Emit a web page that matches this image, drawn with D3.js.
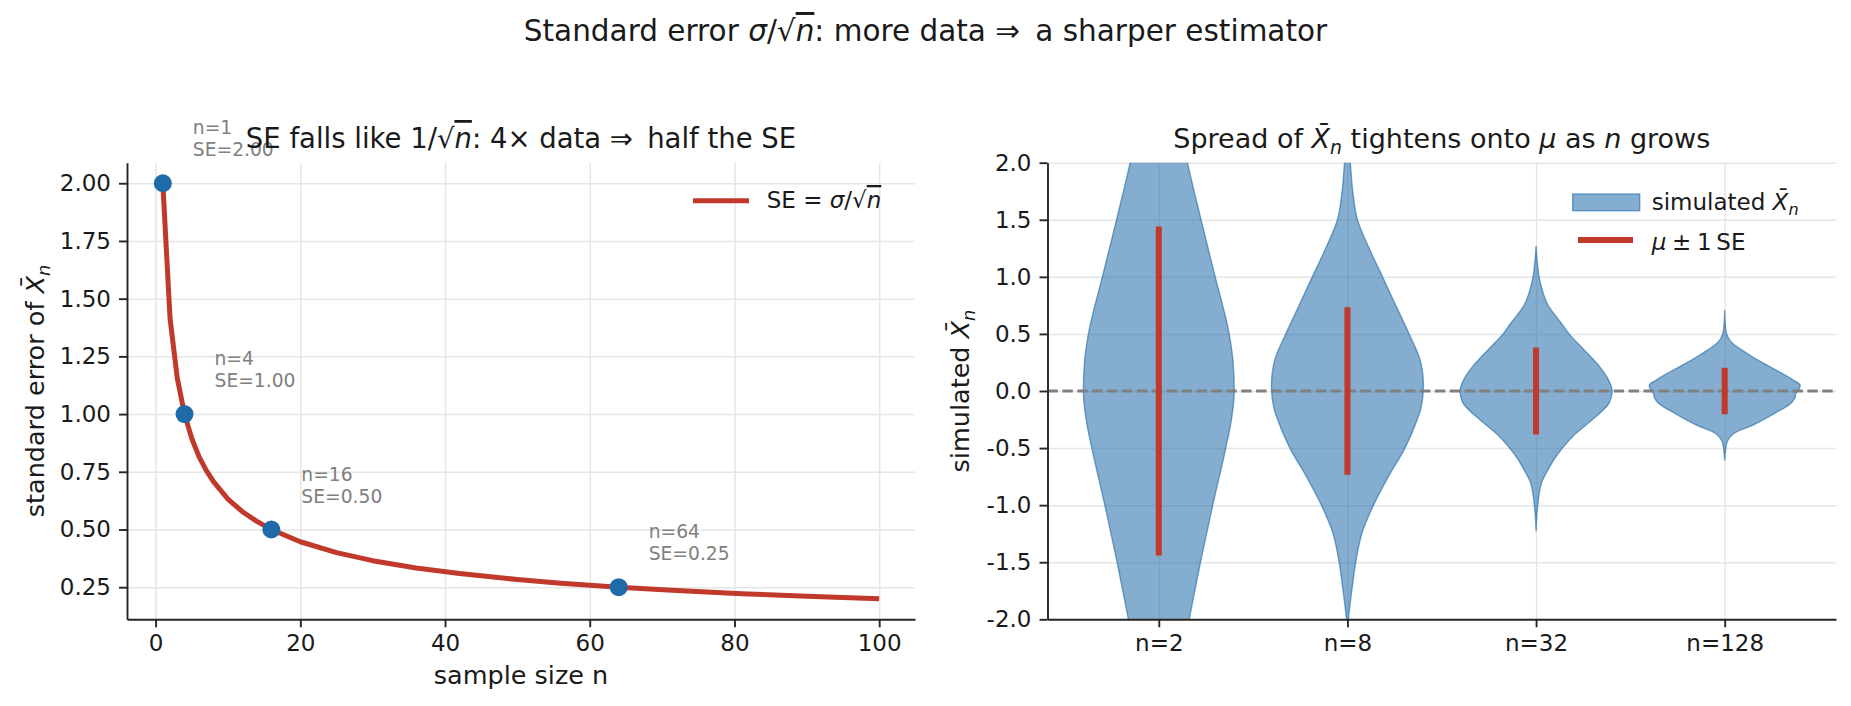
<!DOCTYPE html>
<html>
<head>
<meta charset="utf-8">
<script src="https://cdn.jsdelivr.net/npm/d3@7"></script>
<style>
  body { margin: 0; background: #ffffff; }
  text { font-family: "DejaVu Sans", sans-serif; fill: #1a1a1a; }
</style>
</head>
<body>
<div id="container"></div>
<script>
let w = 1851;
let h = 706;

// ---- left panel data: SE curve and the four marked points
let sampleSizes = [1, 2, 3, 4, 5, 6, 7, 8, 10, 12, 14, 16, 20, 25, 30, 36, 42, 50, 56, 64, 72, 81, 90, 100];
let seCurve = [2.000, 1.414, 1.155, 1.000, 0.894, 0.816, 0.756, 0.707, 0.632, 0.577, 0.535, 0.500, 0.447, 0.400, 0.365, 0.333, 0.309, 0.283, 0.267, 0.250, 0.236, 0.222, 0.211, 0.200];
let markedN = [1, 4, 16, 64];
let markedSE = [2.00, 1.00, 0.50, 0.25];
let xTicksLeft = [0, 20, 40, 60, 80, 100];
let yTicksLeft = [0.25, 0.50, 0.75, 1.00, 1.25, 1.50, 1.75, 2.00];

// ---- right panel data: violins of simulated means
let groupLabels = ["n=2", "n=8", "n=32", "n=128"];
let groupSE = [1.414, 0.707, 0.354, 0.177];
let yTicksRight = [-2.0, -1.5, -1.0, -0.5, 0.0, 0.5, 1.0, 1.5, 2.0];
// [value, half width], top to bottom
let violinN2 = [[2.3, 0.115], [2.0, 0.152], [1.5, 0.224], [1.0, 0.299], [0.5, 0.373], [0.25, 0.394], [0.0, 0.400], [-0.25, 0.385], [-0.5, 0.355], [-1.0, 0.286], [-1.5, 0.221], [-2.0, 0.161], [-2.3, 0.125]];
let violinN8 = [[2.2, 0.0], [2.0, 0.015], [1.75, 0.028], [1.5, 0.053], [1.25, 0.115], [1.0, 0.186], [0.75, 0.256], [0.5, 0.327], [0.25, 0.389], [0.05, 0.403], [-0.15, 0.390], [-0.25, 0.370], [-0.5, 0.305], [-0.75, 0.217], [-1.0, 0.138], [-1.25, 0.076], [-1.5, 0.044], [-1.75, 0.023], [-2.0, 0.005], [-2.1, 0.0]];
let violinN32 = [[1.27, 0.0], [1.1, 0.008], [1.0, 0.016], [0.9, 0.03], [0.75, 0.064], [0.6, 0.131], [0.5, 0.175], [0.4, 0.231], [0.3, 0.290], [0.2, 0.343], [0.1, 0.383], [0.0, 0.403], [-0.1, 0.389], [-0.2, 0.334], [-0.3, 0.263], [-0.4, 0.193], [-0.5, 0.140], [-0.6, 0.095], [-0.7, 0.060], [-0.8, 0.030], [-1.0, 0.009], [-1.23, 0.0]];
let violinN128 = [[0.71, 0.0], [0.55, 0.005], [0.48, 0.015], [0.42, 0.04], [0.36, 0.09], [0.3, 0.147], [0.2, 0.253], [0.1, 0.359], [0.05, 0.400], [0.02, 0.395], [-0.02, 0.378], [-0.06, 0.372], [-0.1, 0.355], [-0.2, 0.260], [-0.3, 0.147], [-0.37, 0.05], [-0.47, 0.009], [-0.61, 0.0]];
let violinShapes = [violinN2, violinN8, violinN32, violinN128];

let red = "#c0392b";
let blue = "#1f6aa8";
let gridColor = "#e6e6e6";
let spineColor = "#262626";
let tickSize = 23;

let viz = d3.select("#container")
  .append("svg")
    .attr("width", w)
    .attr("height", h)
    .style("background-color", "#ffffff");

// mathtext-ish helper: parts = [[text, kind]], kind: "", "i", "sub", "sqrt"
function rich(sel, parts, size) {
  let shift = 0;
  parts.forEach(p => {
    let t = sel.append("tspan").text(p[0]);
    let dy = 0;
    if (p[1] == "i") t.attr("font-style", "italic");
    if (p[1] == "sub") {
      t.attr("font-style", "italic").attr("font-size", size * 0.7);
      dy = size * 0.22;
    }
    if (p[1] == "sqrt") t.attr("font-style", "italic").style("text-decoration", "overline");
    if (dy - shift != 0) t.attr("dy", dy - shift);
    shift = dy;
  });
  if (shift != 0) sel.append("tspan").attr("dy", -shift).text("");
}

// suptitle
rich(viz.append("text")
    .attr("x", 925.5).attr("y", 41)
    .attr("text-anchor", "middle")
    .attr("font-size", 29.5),
  [["Standard error ", ""], ["σ", "i"], ["/√", ""], ["n", "sqrt"], [": more data ⇒\u2009 a sharper estimator", ""]], 29.5);

// ================= left panel =================
let xL = d3.scaleLinear().domain([-3.95, 104.95]).range([127, 915]);
let yL = d3.scaleLinear().domain([0.111, 2.089]).range([619.3, 162.7]);

let left = viz.append("g");

left.append("g")
    .attr("transform", "translate(0,619.3)")
    .call(d3.axisBottom(xL).tickValues(xTicksLeft).tickSize(-456.6).tickFormat(""))
    .call(g => g.select(".domain").remove())
    .selectAll("line").attr("stroke", gridColor).attr("stroke-width", 1.5);

left.append("g")
    .attr("transform", "translate(127,0)")
    .call(d3.axisLeft(yL).tickValues(yTicksLeft).tickSize(-788).tickFormat(""))
    .call(g => g.select(".domain").remove())
    .selectAll("line").attr("stroke", gridColor).attr("stroke-width", 1.5);

let seLine = d3.line()
    .x((d, i) => xL(sampleSizes[i]))
    .y(d => yL(d));

left.append("path")
    .attr("d", seLine(seCurve))
    .attr("fill", "none")
    .attr("stroke", red)
    .attr("stroke-width", 5)
    .attr("stroke-linejoin", "round");

left.selectAll(".dot")
  .data(markedSE)
  .enter()
  .append("circle")
    .attr("cx", (d, i) => xL(markedN[i]))
    .attr("cy", d => yL(d))
    .attr("r", 9)
    .attr("fill", blue);

let notes = left.selectAll(".note")
  .data(markedSE)
  .enter()
  .append("text")
    .attr("font-size", 18.7)
    .style("fill", "#808080");
notes.append("tspan")
    .attr("x", (d, i) => xL(markedN[i]) + 30)
    .attr("y", d => yL(d) - 49)
    .text((d, i) => "n=" + markedN[i]);
notes.append("tspan")
    .attr("x", (d, i) => xL(markedN[i]) + 30)
    .attr("y", d => yL(d) - 27)
    .text(d => "SE=" + d.toFixed(2));

let axL = left.append("g")
    .attr("transform", "translate(127,0)")
    .call(d3.axisLeft(yL).tickValues(yTicksLeft).tickFormat(d3.format(".2f")).tickSize(8).tickPadding(8).tickSizeOuter(0));
let axB = left.append("g")
    .attr("transform", "translate(0,619.3)")
    .call(d3.axisBottom(xL).tickValues(xTicksLeft).tickSize(8).tickPadding(7).tickSizeOuter(0));
[axL, axB].forEach(a => {
  a.select(".domain").attr("stroke", spineColor).attr("stroke-width", 1.9);
  a.selectAll(".tick line").attr("stroke", spineColor).attr("stroke-width", 1.9);
  a.selectAll(".tick text").attr("font-size", tickSize).attr("font-family", "DejaVu Sans").style("fill", "#1a1a1a");
});

rich(left.append("text")
    .attr("x", 521).attr("y", 148)
    .attr("text-anchor", "middle")
    .attr("font-size", 27.5),
  [["SE falls like 1/√", ""], ["n", "sqrt"], [": 4× data ⇒\u2009 half the SE", ""]], 27.5);

left.append("text")
    .attr("x", 521).attr("y", 684)
    .attr("text-anchor", "middle")
    .attr("font-size", 25.5)
    .text("sample size n");

rich(left.append("text")
    .attr("transform", "translate(44,391) rotate(-90)")
    .attr("text-anchor", "middle")
    .attr("font-size", 25.5),
  [["standard error of ", ""], ["X\u0304", "i"], ["n", "sub"]], 25.5);

// legend
left.append("line")
    .attr("x1", 693).attr("x2", 749)
    .attr("y1", 200.7).attr("y2", 200.7)
    .attr("stroke", red).attr("stroke-width", 5);
rich(left.append("text")
    .attr("x", 766.7).attr("y", 208)
    .attr("font-size", 23),
  [["SE = ", ""], ["σ", "i"], ["/√", ""], ["n", "sqrt"]], 23);

// ================= right panel =================
let xR = d3.scaleLinear().domain([0.41, 4.59]).range([1047.5, 1836]);
let yR = d3.scaleLinear().domain([-2, 2]).range([619.3, 162.7]);
let pxPerUnit = xR(1) - xR(0);

let right = viz.append("g");

viz.append("clipPath").attr("id", "clipR")
  .append("rect")
    .attr("x", 1047.5).attr("y", 162.7)
    .attr("width", 788.5).attr("height", 456.6);

right.append("g")
    .attr("transform", "translate(0,619.3)")
    .call(d3.axisBottom(xR).tickValues([1, 2, 3, 4]).tickSize(-456.6).tickFormat(""))
    .call(g => g.select(".domain").remove())
    .selectAll("line").attr("stroke", gridColor).attr("stroke-width", 1.5);

right.append("g")
    .attr("transform", "translate(1047.5,0)")
    .call(d3.axisLeft(yR).tickValues(yTicksRight).tickSize(-788.5).tickFormat(""))
    .call(g => g.select(".domain").remove())
    .selectAll("line").attr("stroke", gridColor).attr("stroke-width", 1.5);

let violins = right.append("g").attr("clip-path", "url(#clipR)");

violinShapes.forEach((shape, i) => {
  let cx = xR(i + 1);
  let area = d3.area()
      .y(d => yR(d[0]))
      .x0(d => cx - d[1] * pxPerUnit)
      .x1(d => cx + d[1] * pxPerUnit)
      .curve(d3.curveMonotoneY);
  violins.append("path")
      .attr("d", area(shape))
      .attr("fill", blue)
      .attr("fill-opacity", 0.55)
      .attr("stroke", blue)
      .attr("stroke-opacity", 0.6)
      .attr("stroke-width", 1.4);
});

right.append("line")
    .attr("x1", 1047.5).attr("x2", 1836)
    .attr("y1", yR(0)).attr("y2", yR(0))
    .attr("stroke", "#808080")
    .attr("stroke-width", 2.8)
    .attr("stroke-dasharray", "10.4,4.5");

right.selectAll(".sebar")
  .data(groupSE)
  .enter()
  .append("line")
    .attr("x1", (d, i) => xR(i + 1))
    .attr("x2", (d, i) => xR(i + 1))
    .attr("y1", d => yR(-d))
    .attr("y2", d => yR(d))
    .attr("stroke", red)
    .attr("stroke-width", 6)
    .attr("stroke-linecap", "square");

let axRL = right.append("g")
    .attr("transform", "translate(1047.5,0)")
    .call(d3.axisLeft(yR).tickValues(yTicksRight).tickFormat(d => d.toFixed(1)).tickSize(8).tickPadding(8).tickSizeOuter(0));
let axRB = right.append("g")
    .attr("transform", "translate(0,619.3)")
    .call(d3.axisBottom(xR).tickValues([1, 2, 3, 4]).tickFormat(d => groupLabels[d - 1]).tickSize(8).tickPadding(7).tickSizeOuter(0));
[axRL, axRB].forEach(a => {
  a.select(".domain").attr("stroke", spineColor).attr("stroke-width", 1.9);
  a.selectAll(".tick line").attr("stroke", spineColor).attr("stroke-width", 1.9);
  a.selectAll(".tick text").attr("font-size", tickSize).attr("font-family", "DejaVu Sans").style("fill", "#1a1a1a");
});

rich(right.append("text")
    .attr("x", 1441.75).attr("y", 148)
    .attr("text-anchor", "middle")
    .attr("font-size", 27),
  [["Spread of ", ""], ["X\u0304", "i"], ["n", "sub"], [" tightens onto ", ""], ["μ", "i"], [" as ", ""], ["n", "i"], [" grows", ""]], 27);

rich(right.append("text")
    .attr("transform", "translate(969,391) rotate(-90)")
    .attr("text-anchor", "middle")
    .attr("font-size", 25.5),
  [["simulated ", ""], ["X\u0304", "i"], ["n", "sub"]], 25.5);

// legend
right.append("rect")
    .attr("x", 1572.7).attr("y", 194)
    .attr("width", 67).attr("height", 16.7)
    .attr("fill", blue).attr("fill-opacity", 0.55)
    .attr("stroke", blue).attr("stroke-opacity", 0.6).attr("stroke-width", 1.4);
rich(right.append("text")
    .attr("x", 1651.7).attr("y", 210)
    .attr("font-size", 23),
  [["simulated ", ""], ["X\u0304", "i"], ["n", "sub"]], 23);
right.append("line")
    .attr("x1", 1578).attr("x2", 1633)
    .attr("y1", 240).attr("y2", 240)
    .attr("stroke", red).attr("stroke-width", 6);
rich(right.append("text")
    .attr("x", 1651.7).attr("y", 250)
    .attr("font-size", 23),
  [["μ", "i"], ["\u2005±\u20051\u2009SE", ""]], 23);
</script>
</body>
</html>
